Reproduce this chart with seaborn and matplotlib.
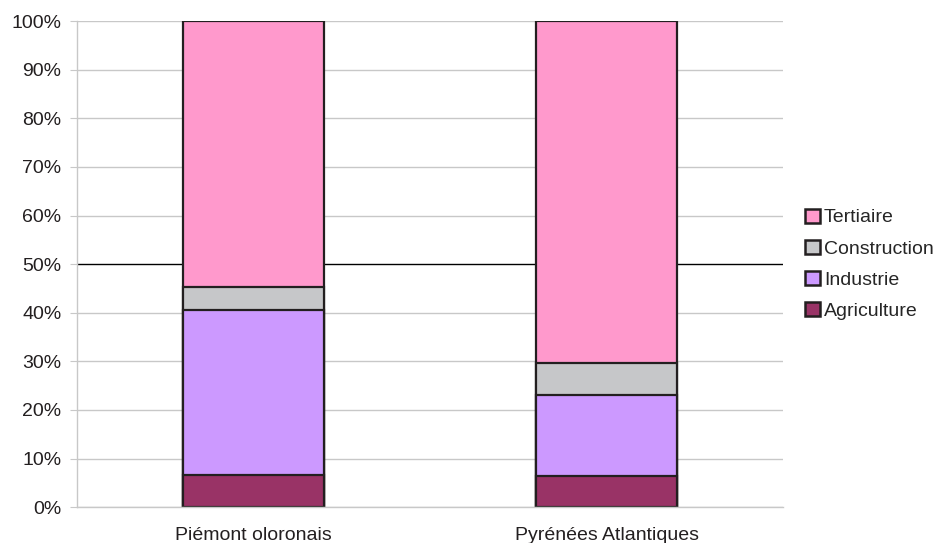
import numpy as np
import pandas as pd
import matplotlib
matplotlib.use('Agg')
import matplotlib.pyplot as plt
from matplotlib.patches import Patch
import seaborn as sns

# données (% des emplois par secteur)
territoires = ['Piémont oloronais', 'Pyrénées Atlantiques']
secteurs = ['Agriculture', 'Industrie', 'Construction', 'Tertiaire']
agriculture = [6.7, 6.4]
industrie = [33.8, 16.6]
construction = [4.8, 6.6]
tertiaire = [54.7, 70.4]
couleurs = {'Agriculture': '#993366', 'Industrie': '#CC99FF',
            'Construction': '#C6C7C9', 'Tertiaire': '#FF99CC'}

df = pd.DataFrame({'territoire': territoires, 'Agriculture': agriculture,
                   'Industrie': industrie, 'Construction': construction,
                   'Tertiaire': tertiaire})

# cumul pour empiler : on dessine du plus haut au plus bas
cumul = df[secteurs].cumsum(axis=1)
cumul['territoire'] = df['territoire']

sns.set_style('white')
plt.rcParams['font.family'] = ['Liberation Sans', 'DejaVu Sans']

fig = plt.figure(figsize=(9.36, 5.43), dpi=100)
ax = fig.add_axes([0.082, 0.066, 0.755, 0.895])

for yv in range(0, 101, 10):
    if yv == 50:
        ax.axhline(yv, color='black', lw=1.0, zorder=0)
    else:
        ax.axhline(yv, color='#C8C8C8', lw=1.0, zorder=0)

for s in reversed(secteurs):
    sns.barplot(data=cumul, x='territoire', y=s, color=couleurs[s], width=0.4,
                edgecolor='#231F20', linewidth=1.6, saturation=1, ax=ax, zorder=2)

ax.set_xlim(-0.5, 1.5)
ax.set_ylim(0, 100)
ax.set_yticks(range(0, 101, 10))
ax.set_yticklabels([f'{v}%' for v in range(0, 101, 10)])
ax.set_xlabel('')
ax.set_ylabel('')
ax.set_xticks([0, 1])
ax.set_xticklabels(territoires)
ax.set_xticks([-0.5, 0.5, 1.5], minor=True)
ax.tick_params(axis='x', which='major', length=0, pad=14, labelsize=14, colors='#231F20')
ax.tick_params(axis='x', which='minor', length=5, color='#C8C8C8', direction='out')
ax.tick_params(axis='y', length=5, color='#C8C8C8', direction='out', labelsize=14,
               labelcolor='#231F20', pad=6, left=True)
for sp in ['top', 'right']:
    ax.spines[sp].set_visible(False)
for sp in ['left', 'bottom']:
    ax.spines[sp].set_color('#C8C8C8')
    ax.spines[sp].set_linewidth(1.0)

handles = [Patch(facecolor=couleurs[s], edgecolor='#231F20', linewidth=1.8, label=s)
           for s in reversed(secteurs)]
ax.legend(handles=handles, loc='center left', bbox_to_anchor=(1.02, 0.5), frameon=False,
          fontsize=14, handlelength=0.75, handleheight=0.75, handletextpad=0.2,
          labelspacing=0.68, borderaxespad=0)

plt.savefig('out.png', dpi=100)
